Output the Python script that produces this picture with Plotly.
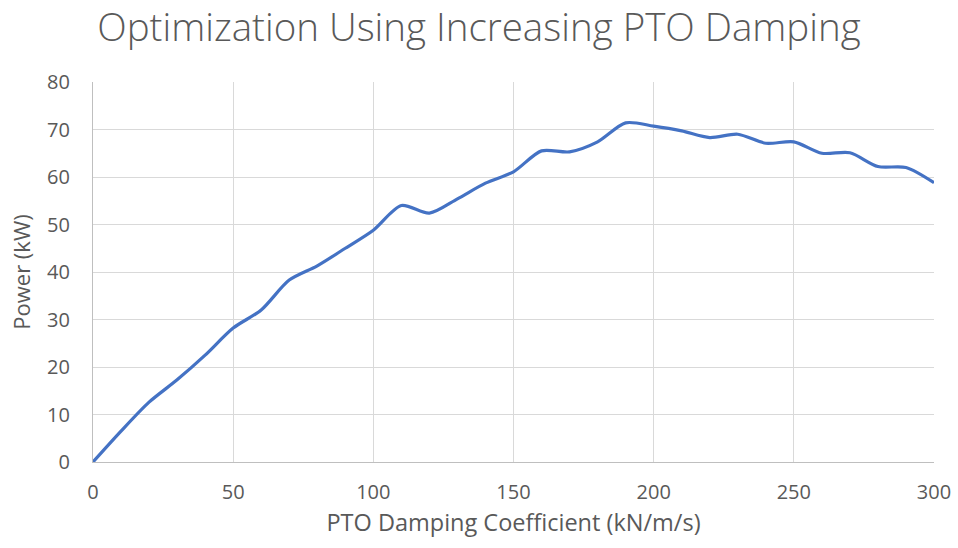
import plotly.graph_objects as go

damping = [0, 10, 20, 30, 40, 50, 60, 70, 80, 90, 100, 110, 120, 130, 140, 150,
           160, 170, 180, 190, 200, 210, 220, 230, 240, 250, 260, 270, 280, 290, 300]
power = [0, 6.5, 12.6, 17.3, 22.5, 28.2, 32.0, 38.3, 41.3, 45.0, 48.8, 54.0, 52.4,
         55.4, 58.7, 61.1, 65.5, 65.3, 67.4, 71.4, 70.7, 69.7, 68.3, 69.0, 67.1,
         67.4, 65.0, 65.1, 62.2, 62.0, 58.8]

x_ticks = [0, 50, 100, 150, 200, 250, 300]
y_ticks = [0, 10, 20, 30, 40, 50, 60, 70, 80]

font_family = "Open Sans"
gray = "#595959"

fig = go.Figure()
fig.add_trace(go.Scatter(
    x=damping, y=power, mode="lines",
    line=dict(color="#4472C4", width=3.2, shape="spline", smoothing=0.8),
    showlegend=False, hoverinfo="x+y",
))

fig.update_layout(
    width=958, height=548,
    margin=dict(l=93, r=24, t=82, b=86, autoexpand=False),
    paper_bgcolor="white", plot_bgcolor="white",
    title=dict(text="Optimization Using Increasing PTO Damping",
               x=0.5, xanchor="center", y=0.95, yanchor="middle",
               font=dict(family=font_family, size=38.5, color=gray, weight=300)),
    font=dict(family=font_family, color=gray),
    xaxis=dict(range=[0, 300], tickvals=x_ticks, showgrid=True,
               gridcolor="#d9d9d9", gridwidth=1.3, zeroline=False,
               showline=True, linecolor="#bfbfbf", linewidth=1.3,
               ticks="", tickfont=dict(size=20, color=gray), ticklabelstandoff=12,
               automargin=False,
               title=dict(text="PTO Damping Coefficient (kN/m/s)",
                          font=dict(size=23.5, color=gray), standoff=10)),
    yaxis=dict(range=[0, 80], tickvals=y_ticks, showgrid=True,
               gridcolor="#d9d9d9", gridwidth=1.3, zeroline=False,
               showline=True, linecolor="#bfbfbf", linewidth=1.3,
               ticks="", tickfont=dict(size=20, color=gray), ticklabelstandoff=18,
               automargin=False,
               title=dict(text="Power (kW)", font=dict(size=22, color=gray), standoff=10)),
)

fig.write_html("out.html", config={"displayModeBar": False},
               post_script="document.body.style.margin='0';")
